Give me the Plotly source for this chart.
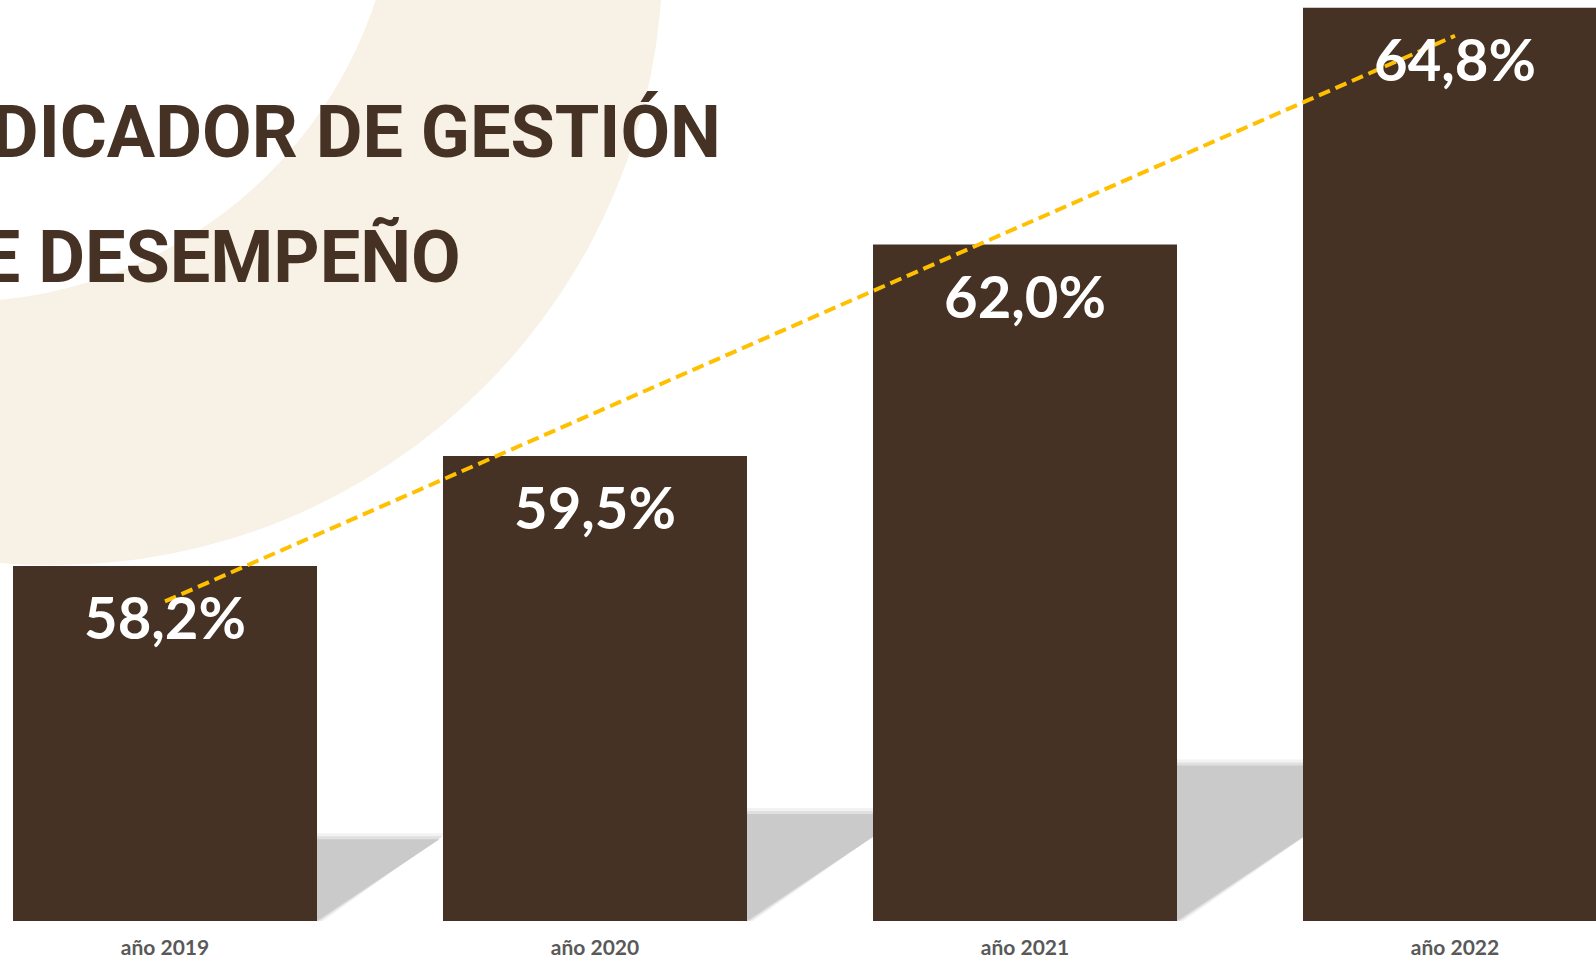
import numpy as np
import plotly.graph_objects as go

# ---------------- data ----------------
categories = ["año 2019", "año 2020", "año 2021", "año 2022"]
values = [58.2, 59.5, 62.0, 64.8]
title_lines = ["INDICADOR DE GESTIÓN", "DE DESEMPEÑO"]

# ---------------- layout constants ----------------
W, H = 1596, 961
PLOT_BOTTOM = 921          # pixel row of the x axis
CAT_PX = 430.0             # pixels per category
FIRST_CENTER_PX = 165.0
BAR_W = 304.0 / CAT_PX
Y_MIN = 54.0
PX_PER_UNIT = 84.55
Y_MAX = Y_MIN + PLOT_BOTTOM / PX_PER_UNIT
X_MIN = -FIRST_CENTER_PX / CAT_PX
X_MAX = (W - FIRST_CENTER_PX) / CAT_PX

BROWN = "#453224"
GOLD = "#FFC000"
BEIGE = "#F8F1E5"

idx = list(range(len(categories)))

def px_x(p):
    return p / W

def px_y(p):
    return (PLOT_BOTTOM - p) / PLOT_BOTTOM

fig = go.Figure()

fig.add_trace(go.Bar(
    x=idx, y=values, width=BAR_W,
    marker=dict(color=BROWN, line=dict(width=0)),
    hoverinfo="skip", showlegend=False,
))

# linear trend line (like Excel's linear trendline)
slope, intercept = np.polyfit(idx, values, 1)
tx = [idx[0], idx[-1]]
ty = [intercept + slope * t for t in tx]
fig.add_trace(go.Scatter(
    x=tx, y=ty, mode="lines",
    line=dict(color=GOLD, width=4, dash="12px,6px"),
    hoverinfo="skip", showlegend=False,
))

shapes = []
# decorative beige crescent (background)
def circle(cx, cy, r, color):
    return dict(type="circle", xref="paper", yref="paper", layer="below",
                x0=px_x(cx - r), x1=px_x(cx + r),
                y0=px_y(cy + r), y1=px_y(cy - r),
                fillcolor=color, line=dict(width=0))

shapes.append(circle(53.2, -44.1, 609.4, BEIGE))
shapes.append(circle(-40.5, -136.4, 438.0, "white"))

# soft cast shadows of the bars
SHADOW_FRAC = 0.23
SHEAR = 1.5
for i, v in zip(idx, values):
    h = (v - Y_MIN) * SHADOW_FRAC
    for grow, col in [(6, "#F2F2F2"), (3, "#E0E0E0"), (0, "#CACACA")]:
        top = Y_MIN + h + grow / PX_PER_UNIT
        dx = SHEAR * h * PX_PER_UNIT / CAT_PX
        gx = grow / CAT_PX
        x0 = i - BAR_W / 2
        x1 = i + BAR_W / 2 + gx
        path = (f"M {x0},{Y_MIN} L {x1},{Y_MIN} "
                f"L {x1 + dx},{top} L {x0 + dx},{top} Z")
        shapes.append(dict(type="path", path=path, xref="x", yref="y",
                           layer="below", fillcolor=col, line=dict(width=0)))

annotations = []
for i, v in zip(idx, values):
    annotations.append(dict(
        x=i, y=v, xref="x", yref="y",
        text=f"{v:.1f}".replace(".", ",") + "%",
        showarrow=False, xanchor="center", yanchor="middle", yshift=-51,
        font=dict(family="Lato", size=58, color="white", weight=700),
    ))

title_font = dict(family="Roboto", size=72, color=BROWN, weight=700)
annotations.append(dict(x=px_x(723), y=px_y(133), xref="paper", yref="paper",
                        text=title_lines[0], showarrow=False,
                        xanchor="right", yanchor="middle", font=title_font))
annotations.append(dict(x=px_x(463), y=px_y(257), xref="paper", yref="paper",
                        text=title_lines[1], showarrow=False,
                        xanchor="right", yanchor="middle", font=title_font))

fig.update_layout(
    width=W, height=H,
    margin=dict(l=0, r=0, t=0, b=H - PLOT_BOTTOM, pad=0),
    paper_bgcolor="white", plot_bgcolor="rgba(0,0,0,0)",
    shapes=shapes, annotations=annotations,
    showlegend=False,
    xaxis=dict(range=[X_MIN, X_MAX], tickvals=idx, ticktext=categories,
               showgrid=False, zeroline=False, showline=False, ticks="",
               ticklabelstandoff=12, automargin=False,
               tickfont=dict(family="Lato", size=21, color="#595959", weight=700)),
    yaxis=dict(range=[Y_MIN, Y_MAX], visible=False, showgrid=False,
               zeroline=False, automargin=False),
)

fig.write_html("out.html")
